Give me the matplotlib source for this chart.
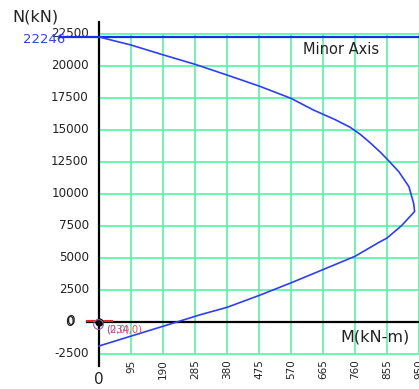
import matplotlib
matplotlib.use("Agg")
import matplotlib.pyplot as plt

# Interaction curve (minor axis): moment M (kN-m) vs axial load N (kN)
moment = [0, 95, 190, 285, 380, 475, 570, 636, 700, 745, 775, 805, 835, 858,
          890, 920, 934, 937, 898, 855, 831, 760, 665, 570, 475, 380, 300, 234, 0]
axial = [22246, 21617, 20850, 20109, 19273, 18414, 17450, 16547, 15800, 15200,
         14650, 13980, 13250, 12628, 11720, 10553, 9257, 8609, 7500, 6534, 6197,
         5108, 4071, 3034, 2048, 1120, 540, 0, -1898]

max_axial = 22246
zero_moment_capacity = 234
x_ticks = [95, 190, 285, 380, 475, 570, 665, 760, 855, 950]
y_ticks = [-2500, 2500, 5000, 7500, 10000, 12500, 15000, 17500, 20000, 22500]

GRID = "#5EEFA5"
BLUE = "#2E3FEF"
INK = "#222222"

fig = plt.figure(figsize=(4.19, 3.89), dpi=100)
ax = fig.add_axes([0, 0, 1, 1])
ax.set_xlim(-293.9, 950)
ax.set_ylim(-5258, 25133)
ax.axis("off")

# grid
ax.vlines(x_ticks, -2500, 22500, color=GRID, lw=1.2, zorder=1)
ax.hlines(y_ticks, 0, 950, color=GRID, lw=1.2, zorder=1)

# axes lines
ax.plot([0, 0], [-3450, 23440], color="black", lw=1.6, zorder=3)
ax.plot([-35, 950], [0, 0], color="black", lw=1.6, zorder=3)

# maximum axial load line
ax.plot([-115, 950], [max_axial, max_axial], color="#1A2EE8", lw=1.6, zorder=4)

# interaction curve
ax.plot(moment, axial, color=BLUE, lw=1.2, zorder=5)

# origin markers
ax.plot([-35, 38], [60, 60], color="#E8202A", lw=1.5, zorder=6)
ax.plot([0], [0], marker="o", ms=5, color="black", zorder=7)
ax.plot([-2], [-180], marker="o", ms=7, mfc="none", mec="#9A5CA8", mew=0.8, zorder=7)

# y tick labels
for t in y_ticks:
    ax.text(-30, t, f"{t}", ha="right", va="center", fontsize=8.6, color=INK)
ax.text(-72, 60, "0", ha="right", va="center", fontsize=10, color=INK)
ax.text(-75, 10, "0", ha="right", va="center", fontsize=10, color=INK)

# x tick labels
for t in x_ticks:
    ax.text(t, -2950, f"{t}", ha="center", va="top", rotation=90,
            fontsize=7.5, color=INK)
ax.text(0, -4550, "0", ha="center", va="center", fontsize=11, color=INK)

# annotations
ax.text(-225, max_axial - 200, f"{max_axial}", ha="left", va="center",
        fontsize=9.5, color="#2E3FEF")
ax.text(22, -630, f"({zero_moment_capacity},0)", ha="left", va="center",
        fontsize=7.2, color="#E0303E", alpha=0.85, zorder=8)
ax.text(22, -630, "(0,0)", ha="left", va="center", fontsize=7.2,
        color="#9A5CA8", alpha=0.85, zorder=8)

ax.text(-256, 23800, "N(kN)", ha="left", va="center", fontsize=11.5, color=INK)
ax.text(716, -1230, "M(kN-m)", ha="left", va="center", fontsize=11.5, color=INK)
ax.text(605, 21250, "Minor Axis", ha="left", va="center", fontsize=10.5, color=INK)

fig.savefig("out.png", dpi=100)
